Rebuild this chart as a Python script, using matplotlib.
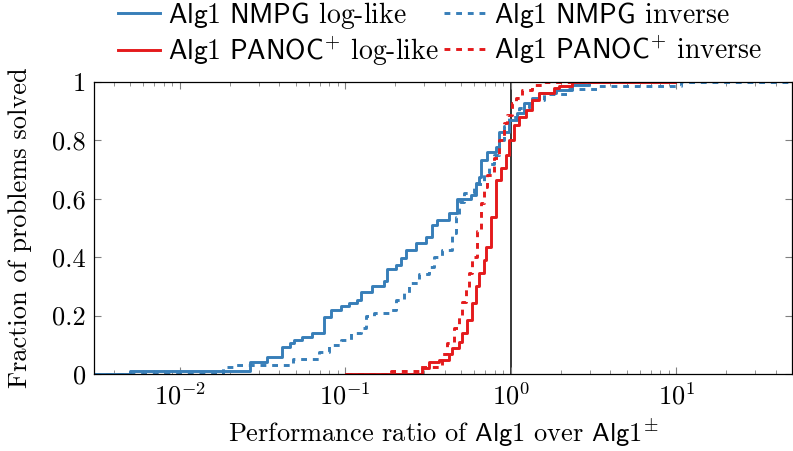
import matplotlib
matplotlib.use('Agg')
from matplotlib import pyplot as plt

plt.rcParams['font.family'] = 'cmr10'
plt.rcParams['mathtext.fontset'] = 'cm'
plt.rcParams['axes.formatter.use_mathtext'] = True

# performance ratio (x) and fraction of problems solved (y)
nmpg_log_x = [0.00303, 0.005, 0.0264, 0.0334, 0.0417, 0.046, 0.0493, 0.0551, 0.0633, 0.0747,
              0.0823, 0.0946, 0.1057, 0.1181, 0.1249, 0.1455, 0.1718, 0.1791, 0.2029, 0.2174,
              0.233, 0.268, 0.3077, 0.3343, 0.3581, 0.4232, 0.473, 0.5743, 0.6154, 0.6416,
              0.6597, 0.7169, 0.8122, 0.8468, 0.9727, 1.087, 1.198, 1.339, 1.475, 1.867,
              2.33, 2.95, 9.86]
nmpg_log_y = [0, 0.01, 0.041, 0.058, 0.092, 0.106, 0.116, 0.127, 0.14, 0.195,
              0.22, 0.233, 0.243, 0.253, 0.28, 0.30, 0.32, 0.36, 0.373, 0.397,
              0.425, 0.449, 0.47, 0.51, 0.527, 0.55, 0.60, 0.613, 0.654, 0.675,
              0.733, 0.76, 0.777, 0.83, 0.87, 0.893, 0.928, 0.945, 0.962, 0.973,
              0.99, 1.0, 1.0]

nmpg_inv_x = [0.00303, 0.0182, 0.022, 0.048, 0.0697, 0.0801, 0.0946, 0.1087, 0.1249, 0.1339,
              0.1496, 0.1841, 0.2029, 0.2266, 0.243, 0.2791, 0.3206, 0.3436, 0.3839, 0.4411,
              0.4664, 0.4863, 0.5212, 0.5986, 0.6877, 0.737, 0.79, 0.8468, 0.9075, 0.9727,
              1.117, 1.283, 1.58, 2.236, 3.39, 10.7, 50]
nmpg_inv_y = [0, 0.024, 0.03, 0.05, 0.075, 0.1, 0.116, 0.14, 0.158, 0.2,
              0.21, 0.22, 0.253, 0.277, 0.31, 0.342, 0.367, 0.40, 0.425, 0.483,
              0.538, 0.59, 0.62, 0.65, 0.69, 0.72, 0.75, 0.80, 0.85, 0.88,
              0.91, 0.94, 0.96, 0.975, 0.985, 1.0, 1.0]

panoc_log_x = [0.1014, 0.291, 0.3206, 0.3683, 0.4232, 0.4411, 0.4863, 0.5069, 0.5433, 0.5822,
               0.6154, 0.6416, 0.6877, 0.707, 0.7579, 0.8122, 0.8706, 0.933, 0.9727, 1.042,
               1.117, 1.231, 1.339, 1.475, 1.815, 1.946, 2.33, 9.86]
panoc_log_y = [0, 0.02, 0.04, 0.048, 0.07, 0.088, 0.11, 0.14, 0.185, 0.243,
               0.30, 0.346, 0.39, 0.435, 0.538, 0.664, 0.705, 0.75, 0.80, 0.853,
               0.88, 0.904, 0.938, 0.962, 0.98, 0.986, 1.0, 1.0]

panoc_inv_x = [0.1014, 0.1893, 0.2791, 0.3839, 0.4115, 0.4536, 0.4863, 0.5069, 0.5359, 0.5586,
               0.5822, 0.624, 0.6597, 0.6877, 0.7169, 0.79, 0.8468, 0.9075, 0.946, 1.014,
               1.072, 1.165, 1.339, 1.58, 9.86]
panoc_inv_y = [0, 0.01, 0.024, 0.07, 0.105, 0.158, 0.2, 0.246, 0.295, 0.346,
               0.40, 0.49, 0.585, 0.64, 0.68, 0.74, 0.80, 0.86, 0.887, 0.928,
               0.945, 0.973, 0.99, 1.0, 1.0]

azul = '#377eb8'
rojo = '#e41a1c'

fig = plt.figure(figsize=(7.93, 4.51), dpi=100)
ax = fig.add_axes([94 / 793, 1 - 374 / 451, 698 / 793, 292 / 451])

l1, = ax.step(nmpg_log_x, nmpg_log_y, where='post', color=azul, lw=2.1,
              label=r'$\mathsf{Alg1\ NMPG}$ log-like')
l2, = ax.step(nmpg_inv_x, nmpg_inv_y, where='post', color=azul, lw=2.1, ls=(0, (2.0, 2.0)),
              label=r'$\mathsf{Alg1\ NMPG}$ inverse')
l3, = ax.step(panoc_log_x, panoc_log_y, where='post', color=rojo, lw=2.1,
              label=r'$\mathsf{Alg1\ PANOC}^{+}$ log-like')
l4, = ax.step(panoc_inv_x, panoc_inv_y, where='post', color=rojo, lw=2.1, ls=(0, (2.0, 2.0)),
              label=r'$\mathsf{Alg1\ PANOC}^{+}$ inverse')

ax.axvline(1, color='black', lw=1.1, zorder=1)

ax.set_xscale('log')
ax.set_xlim(0.00303, 50)
ax.set_ylim(0, 1)
ax.set_yticks([0, 0.2, 0.4, 0.6, 0.8, 1])
ax.set_yticklabels(['0', '0.2', '0.4', '0.6', '0.8', '1'])
ax.tick_params(which='both', direction='in', top=True, right=True, color='#808080',
               labelsize=19)
ax.tick_params(which='major', length=5, pad=6)
ax.tick_params(which='minor', length=3)
for s in ax.spines.values():
    s.set_linewidth(0.9)

ax.set_xlabel(r'Performance ratio of $\mathsf{Alg1}$ over $\mathsf{Alg1}^{\pm}$', fontsize=19,
              labelpad=5)
ax.set_ylabel('Fraction of problems solved', fontsize=19, labelpad=14)

# orden por filas como en la figura original
fig.legend([l1, l3, l2, l4], [l.get_label() for l in (l1, l3, l2, l4)],
           loc='upper center', bbox_to_anchor=(440 / 793, 1.055), ncol=2, frameon=False,
           fontsize=20, handlelength=1.5, handletextpad=0.3, columnspacing=0.2,
           labelspacing=0.12)

fig.savefig('out.png', dpi=100)
